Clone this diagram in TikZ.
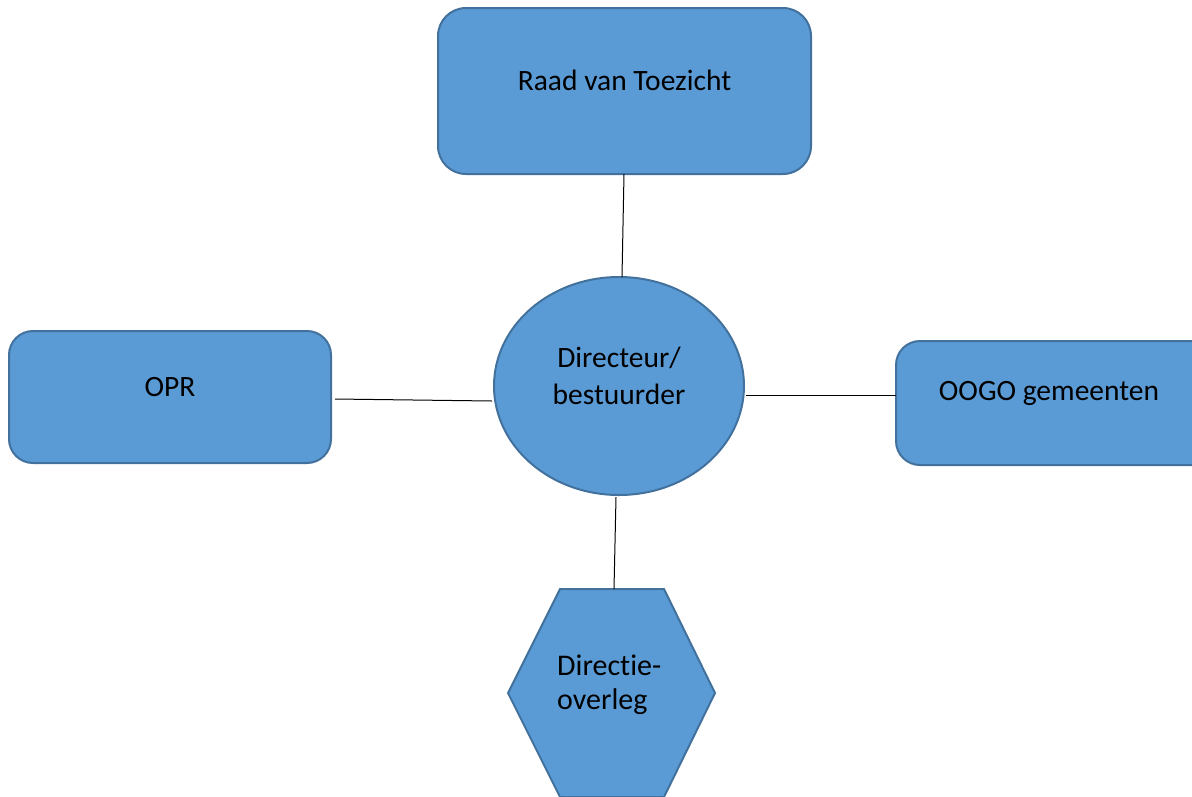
\documentclass[tikz,border=0pt]{standalone}
\usepackage{fontspec}
\setmainfont{Carlito}[Ligatures={NoCommon}]
\usetikzlibrary{shapes.geometric}
\definecolor{boxfill}{HTML}{5B9BD5}
\definecolor{boxline}{HTML}{41719C}
\tikzset{
  shp/.style={fill=boxfill, draw=boxline, line width=2pt},
  rbox/.style={shp, rectangle, rounded corners=28pt, inner sep=0pt},
  lbl/.style={font=\fontsize{29.5}{37}\selectfont, inner sep=0pt, align=center},
  conn/.style={draw=black, line width=1pt}
}
\begin{document}
\begin{tikzpicture}[x=1pt,y=-1pt]
\useasboundingbox (0,0) rectangle (1192,796);
\clip (0,0) rectangle (1192,796);
% shapes
\node[rbox, minimum width=373pt, minimum height=166pt] (raad) at (624.5,91) {};
\node[rbox, minimum width=322pt, minimum height=132pt, rounded corners=24pt] (opr) at (170,397) {};
\node[rbox, minimum width=330pt, minimum height=124pt, rounded corners=24pt] (oogo) at (1061,403) {};
\node[shp, ellipse, minimum width=250pt, minimum height=218pt, inner sep=0pt] (dir) at (619,386) {};
\path[shp] (560,589) -- (664,589) -- (715,693) -- (664,797) -- (560,797) -- (508,693) -- cycle;
\coordinate (hextop) at (614,589);
% texts
\node[lbl] (traad) at (624.5,80) {Raad van Toezicht};
\node[lbl] (topr) at (170,387) {OPR};
\node[lbl] (toogo) at (1049,393) {OOGO gemeenten};
\node[lbl] (tdir) at (619,376) {Directeur/\\bestuurder};
\node[font=\fontsize{30}{34}\selectfont, inner sep=0pt, align=left, anchor=west] (thex) at (557,685) {Directie-\\overleg};
% connectors
\draw[conn] (624,174) -- (622,277);
\draw[conn] (335,399) -- (492,401);
\draw[conn] (746,395) -- (896,395);
\draw[conn] (616,497) -- (hextop);
\end{tikzpicture}
\end{document}
